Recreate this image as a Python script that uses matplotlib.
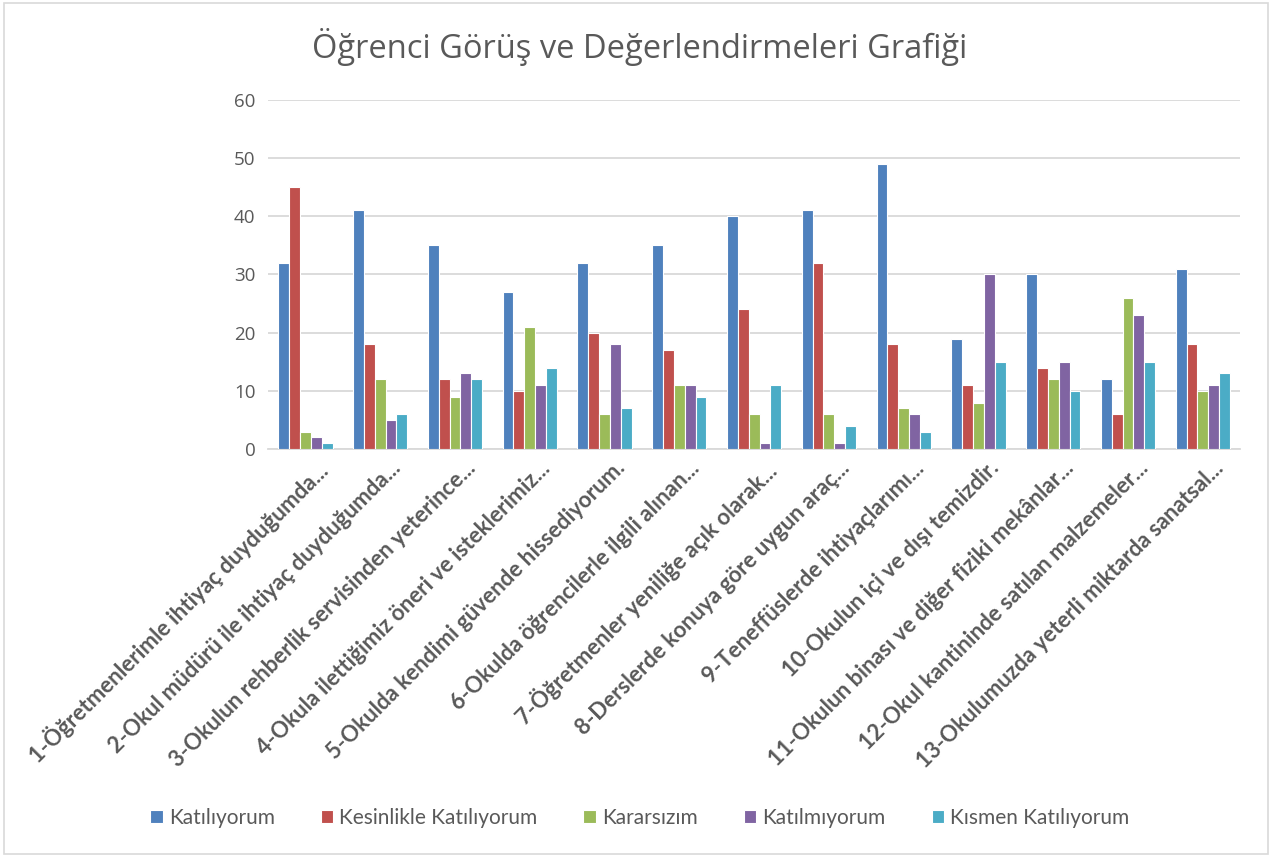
import numpy as np
import matplotlib.pyplot as plt
from matplotlib.patches import Rectangle

plt.rcParams['font.family'] = ['Open Sans', 'DejaVu Sans']

categories = [
    "1-Öğretmenlerimle ihtiyaç duyduğumda...",
    "2-Okul müdürü ile ihtiyaç duyduğumda...",
    "3-Okulun rehberlik servisinden yeterince...",
    "4-Okula ilettiğimiz öneri ve isteklerimiz...",
    "5-Okulda kendimi güvende hissediyorum.",
    "6-Okulda öğrencilerle ilgili alınan...",
    "7-Öğretmenler yeniliğe açık olarak...",
    "8-Derslerde konuya göre uygun araç...",
    "9-Teneffüslerde ihtiyaçlarımı...",
    "10-Okulun içi ve dışı temizdir.",
    "11-Okulun binası ve diğer fiziki mekânlar...",
    "12-Okul kantininde satılan malzemeler...",
    "13-Okulumuzda yeterli miktarda sanatsal...",
]
series_names = ["Katılıyorum", "Kesinlikle Katılıyorum", "Kararsızım",
                "Katılmıyorum", "Kısmen Katılıyorum"]
katiliyorum = [32, 41, 35, 27, 32, 35, 40, 41, 49, 19, 30, 12, 31]
kesinlikle = [45, 18, 12, 10, 20, 17, 24, 32, 18, 11, 14, 6, 18]
kararsizim = [3, 12, 9, 21, 6, 11, 6, 6, 7, 8, 12, 26, 10]
katilmiyorum = [2, 5, 13, 11, 18, 11, 1, 1, 6, 30, 15, 23, 11]
kismen = [1, 6, 12, 14, 7, 9, 11, 4, 3, 15, 10, 15, 13]
colors = ["#4F81BD", "#C0504D", "#9BBB59", "#8064A2", "#4BACC6"]

values = [katiliyorum, kesinlikle, kararsizim, katilmiyorum, kismen]

fig = plt.figure(figsize=(12.72, 8.57), dpi=100)
fig.patches.append(Rectangle((0.003, 0.003), 0.994, 0.994, transform=fig.transFigure,
                             fill=False, edgecolor="#D9D9D9", linewidth=1.2))
ax = fig.add_axes([0.2107, 0.476, 0.7643, 0.4074])

x = np.arange(len(categories))
w = 0.145
for i, (name, vals) in enumerate(zip(series_names, values)):
    ax.bar(x + (i - 2) * w, vals, width=w, color=colors[i], edgecolor="white",
           linewidth=0.8, label=name, zorder=3)

ax.set_xlim(-0.5, len(categories) - 0.5)
ax.set_ylim(0, 60)
ax.set_yticks(range(0, 61, 10))
ax.grid(axis="y", color="#D9D9D9", linewidth=1.3, zorder=0)
for s in ["top", "right", "left"]:
    ax.spines[s].set_visible(False)
ax.spines["bottom"].set_color("#D9D9D9")
ax.spines["bottom"].set_linewidth(1.3)
ax.tick_params(axis="both", length=0, colors="#595959", labelsize=13.5)
ax.tick_params(axis="y", pad=9)
ax.set_xticks(x + 0.13)
ax.set_xticklabels(categories, rotation=45, ha="right", rotation_mode="anchor",
                   fontsize=16, fontweight="bold", color="#595959",
                   family=["Lato", "DejaVu Sans"])
ax.tick_params(axis="x", pad=6)

fig.text(0.503, 0.945, "Öğrenci Görüş ve Değerlendirmeleri Grafiği", ha="center",
         va="center", fontsize=23.5, color="#595959")

fig.legend(loc="center", bbox_to_anchor=(0.503, 0.046), ncol=5, frameon=False,
           prop={"family": ["Lato", "DejaVu Sans"], "size": 15},
           handlelength=0.6, handleheight=0.6, handletextpad=0.3,
           columnspacing=2.2, labelcolor="#595959")

fig.savefig("out.png", dpi=100)
